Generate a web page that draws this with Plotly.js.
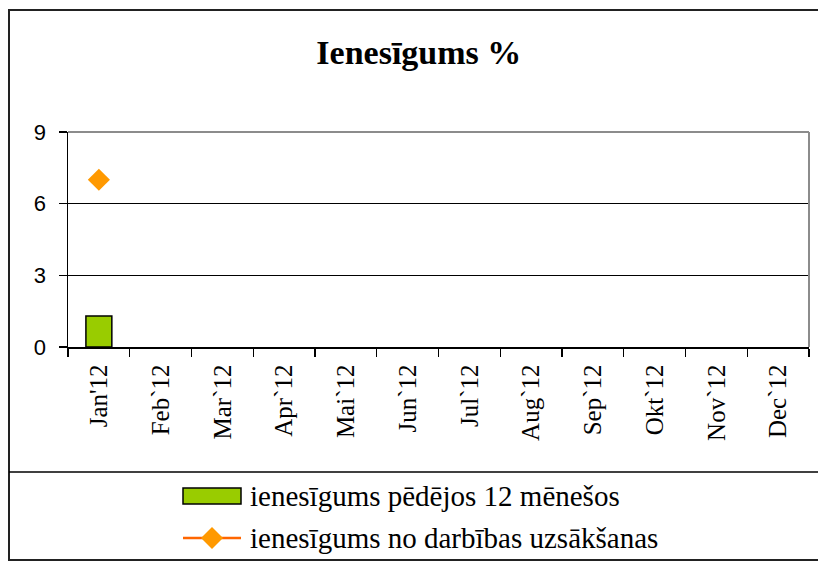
<!DOCTYPE html>
<html>
<head>
<meta charset="utf-8">
<script src="https://cdn.plot.ly/plotly-3.0.1.min.js"></script>
<style>html,body{margin:0;padding:0;background:#fff;} #chart{width:818px;height:562px;}</style>
</head>
<body>
<div id="chart"></div>
<script>
const months = ["Jan'12","Feb`12","Mar`12","Apr`12","Mai`12","Jun`12","Jul`12","Aug`12","Sep`12","Okt`12","Nov`12","Dec`12"];
const last12 = [1.3, null, null, null, null, null, null, null, null, null, null, null];
const sinceStart = [7.0, null, null, null, null, null, null, null, null, null, null, null];
const yTicks = [0, 3, 6, 9];
const seriesNames = ["ienesīgums pēdējos 12 mēnešos", "ienesīgums no darbības uzsākšanas"];

const barColor = '#99CC00', lineColor = '#FF6600', markerColor = '#FF9900';

const traces = [
  {
    type: 'bar', x: months, y: last12, name: seriesNames[0],
    width: 0.42,
    marker: {color: barColor, line: {color: '#000000', width: 1.5}}
  },
  {
    type: 'scatter', mode: 'lines+markers', x: months, y: sinceStart, name: seriesNames[1],
    line: {color: lineColor, width: 2.5},
    marker: {symbol: 'diamond', size: 17, color: markerColor, line: {width: 0}}
  }
];

// plot area in pixels
const L = 68, R = 809, T = 132, B = 347, W = 818, H = 562;
const px = v => (v - L) / (R - L);
const py = v => (B - v) / (B - T);

const serif = 'Liberation Serif';

// legend (drawn as shapes + text)
const legendX0 = 183, legendX1 = 241, row1 = 496, row2 = 538, textX = 248;
const dx = 11, dy = 11, cx = (legendX0 + legendX1) / 2;
const diamondPath = `M ${px(cx)},${py(row2 - dy)} L ${px(cx + dx)},${py(row2)} L ${px(cx)},${py(row2 + dy)} L ${px(cx - dx)},${py(row2)} Z`;

const layout = {
  width: W, height: H,
  paper_bgcolor: '#ffffff', plot_bgcolor: '#ffffff',
  font: {family: serif, color: '#000'},
  margin: {l: L, r: W - R, t: T, b: H - B, autoexpand: false},
  title: {
    text: '<b>Ienesīgums %</b>',
    font: {family: serif, size: 34, color: '#000'},
    x: 0.512, xref: 'container', xanchor: 'center',
    y: 1 - 52/562, yref: 'container', yanchor: 'middle'
  },
  xaxis: {
    type: 'category',
    tickangle: -90,
    tickfont: {family: serif, size: 25, color: '#000'},
    showline: true, linecolor: '#000', linewidth: 1.5,
    ticks: 'outside', ticklen: 8, tickcolor: '#000', tickwidth: 1.2,
    tickson: 'boundaries',
    showgrid: false, zeroline: false,
    ticklabelstandoff: 6,
    range: [-0.5, 11.5], fixedrange: true, automargin: false
  },
  yaxis: {
    range: [0, 9], tickvals: yTicks,
    tickfont: {family: 'Liberation Sans', size: 22, color: '#000'},
    showline: true, linecolor: '#000', linewidth: 1.5,
    ticks: 'outside', ticklen: 8, tickcolor: '#000', tickwidth: 1.2,
    showgrid: true, gridcolor: '#000', gridwidth: 1.2,
    zeroline: false, ticklabelstandoff: 8, fixedrange: true, automargin: false
  },
  showlegend: false,
  shapes: [
    // outer frame
    {type: 'rect', xref: 'paper', yref: 'paper', x0: px(9), x1: px(830), y0: py(560), y1: py(10),
     line: {color: '#222', width: 2}, fillcolor: 'rgba(0,0,0,0)', layer: 'below'},
    // legend separator
    {type: 'line', xref: 'paper', yref: 'paper', x0: px(9), x1: px(830), y0: py(472), y1: py(472),
     line: {color: '#000', width: 1.5}},
    // plot top border grey
    {type: 'line', xref: 'paper', yref: 'paper', x0: 0, x1: 1, y0: 1, y1: 1, line: {color: '#8c8c8c', width: 2}},
    // plot right border grey
    {type: 'line', xref: 'paper', yref: 'paper', x0: 1, x1: 1, y0: 0, y1: 1, line: {color: '#8c8c8c', width: 2}},
    // legend symbol: bar
    {type: 'rect', xref: 'paper', yref: 'paper', x0: px(legendX0), x1: px(legendX1), y0: py(row1 + 8), y1: py(row1 - 8),
     line: {color: '#000', width: 1.5}, fillcolor: barColor},
    // legend symbol: line + diamond
    {type: 'line', xref: 'paper', yref: 'paper', x0: px(legendX0), x1: px(legendX1), y0: py(row2), y1: py(row2),
     line: {color: lineColor, width: 2.5}},
    {type: 'path', xref: 'paper', yref: 'paper', path: diamondPath, fillcolor: markerColor, line: {width: 0}}
  ],
  annotations: [
    {xref: 'paper', yref: 'paper', x: px(textX), y: py(row1), xanchor: 'left', yanchor: 'middle',
     text: seriesNames[0], showarrow: false, font: {family: serif, size: 29, color: '#000'}},
    {xref: 'paper', yref: 'paper', x: px(textX), y: py(row2), xanchor: 'left', yanchor: 'middle',
     text: seriesNames[1], showarrow: false, font: {family: serif, size: 29, color: '#000'}}
  ]
};

Plotly.newPlot('chart', traces, layout, {staticPlot: true, displayModeBar: false});
</script>
</body>
</html>
